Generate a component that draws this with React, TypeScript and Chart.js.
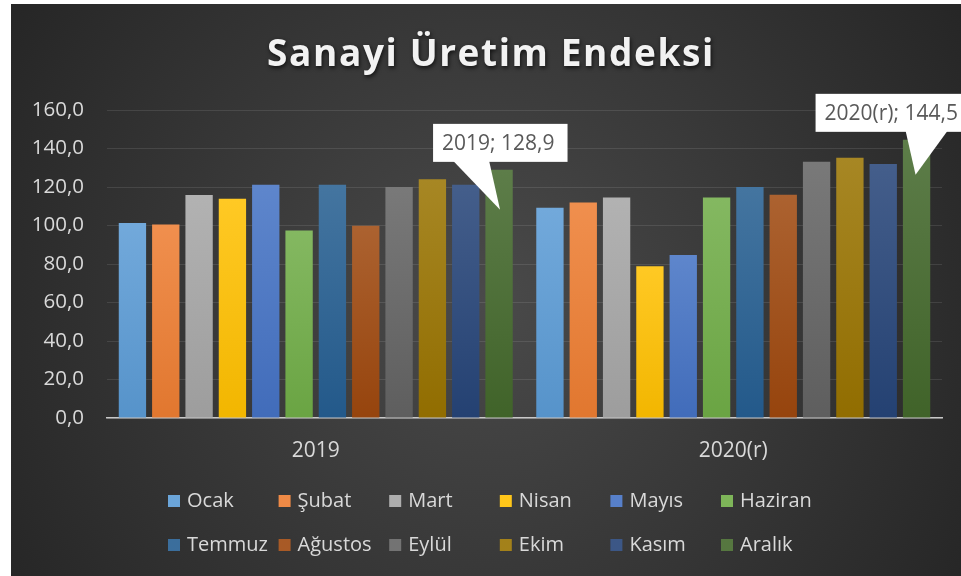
import React, { useEffect, useRef } from 'react';
import { Chart, registerables } from 'chart.js';

Chart.register(...registerables);

const title = 'Sanayi Üretim Endeksi';
const years = ['2019', '2020(r)'];
const months = ['Ocak', 'Şubat', 'Mart', 'Nisan', 'Mayıs', 'Haziran', 'Temmuz', 'Ağustos', 'Eylül', 'Ekim', 'Kasım', 'Aralık'];
const values2019 = [101.3, 100.5, 115.8, 113.9, 121.2, 97.4, 121.2, 99.9, 120.0, 124.0, 121.2, 128.9];
const values2020 = [109.2, 112.0, 114.5, 78.8, 84.7, 114.6, 120.0, 116.0, 133.1, 135.2, 131.9, 144.5];
const monthColors = ['#5b9bd5', '#ed7d31', '#a5a5a5', '#ffc000', '#4472c4', '#70ad47', '#255e91', '#9e480e', '#636363', '#997300', '#264478', '#43682b'];
const yMin = 0;
const yMax = 160;
const yStep = 20;

const FONT = '"Open Sans", "DejaVu Sans", sans-serif';
const fmt = (v: number) => v.toFixed(1).replace('.', ',');

function mix(hex: string, t: number) {
  const n = parseInt(hex.slice(1), 16);
  const r = (n >> 16) & 255, g = (n >> 8) & 255, b = n & 255;
  const f = (c: number) => Math.round(t >= 0 ? c + (255 - c) * t : c * (1 + t));
  return `rgb(${f(r)},${f(g)},${f(b)})`;
}

const bgPlugin = {
  id: 'bgPlugin',
  beforeDraw(chart: any) {
    const { ctx, width, height } = chart;
    ctx.save();
    const g = ctx.createRadialGradient(width * 0.5, height * 0.52, 0, width * 0.5, height * 0.52, width * 0.62);
    g.addColorStop(0, '#4a4a4a');
    g.addColorStop(1, '#242424');
    ctx.fillStyle = g;
    ctx.fillRect(0, 0, width, height);
    ctx.restore();
  },
  afterDraw(chart: any) {
    const { ctx } = chart;
    // title
    ctx.save();
    ctx.font = `bold 37px ${FONT}`;
    (ctx as any).letterSpacing = '1.6px';
    ctx.textAlign = 'center';
    ctx.textBaseline = 'alphabetic';
    ctx.shadowColor = 'rgba(0,0,0,0.7)';
    ctx.shadowBlur = 4;
    ctx.shadowOffsetX = 1;
    ctx.shadowOffsetY = 2;
    ctx.fillStyle = '#f2f2f2';
    ctx.fillText(title, 480, 62);
    ctx.restore();

    // legend (6 columns x 2 rows)
    ctx.save();
    ctx.font = `20px ${FONT}`;
    ctx.textBaseline = 'middle';
    ctx.textAlign = 'left';
    const left = 157, pitch = 110.6, rows = [497, 541];
    months.forEach((m, i) => {
      const col = i % 6, row = Math.floor(i / 6);
      const x = left + col * pitch, y = rows[row];
      ctx.fillStyle = mix(monthColors[i], 0.1);
      ctx.fillRect(x, y - 6, 12, 12);
      ctx.fillStyle = '#d9d9d9';
      ctx.fillText(m, x + 19, y);
    });
    ctx.restore();
  },
};

const calloutShift = [-66, -101];
const calloutPointer = [[-46, -10, 1, 40], [-11, 31, -1, 35]];

const calloutPlugin = {
  id: 'callout',
  afterDatasetsDraw(chart: any) {
    const { ctx } = chart;
    const meta = chart.getDatasetMeta(months.length - 1);
    ctx.save();
    ctx.font = `21px ${FONT}`;
    ctx.textBaseline = 'middle';
    ctx.textAlign = 'left';
    meta.data.forEach((el: any, i: number) => {
      const val = chart.data.datasets[months.length - 1].data[i];
      const text = `${years[i]}; ${fmt(val)}`;
      const tw = ctx.measureText(text).width;
      const bx = el.x + calloutShift[i];
      const bh = 38;
      const by = el.y - 8 - bh;
      const bw = tw + 22;
      const p = calloutPointer[i];
      ctx.fillStyle = '#ffffff';
      ctx.fillRect(bx, by, bw, bh);
      ctx.beginPath();
      ctx.moveTo(el.x + p[0], by + bh - 1);
      ctx.lineTo(el.x + p[1], by + bh - 1);
      ctx.lineTo(el.x + p[2], el.y + p[3]);
      ctx.closePath();
      ctx.fill();
      ctx.fillStyle = '#595959';
      ctx.fillText(text, bx + 9, by + bh / 2 + 1);
    });
    ctx.restore();
  },
};

export default function App() {
  const ref = useRef<HTMLCanvasElement>(null);
  useEffect(() => {
    document.body.style.margin = '0';
    const canvas = ref.current!;
    const datasets = months.map((m, i) => ({
      label: m,
      data: [values2019[i], values2020[i]],
      backgroundColor: (c: any) => {
        const chart = c.chart;
        const area = chart.chartArea;
        if (!area || c.raw == null) return monthColors[i];
        const yTop = chart.scales.y.getPixelForValue(c.raw);
        const g = chart.ctx.createLinearGradient(0, yTop, 0, area.bottom);
        g.addColorStop(0, mix(monthColors[i], 0.14));
        g.addColorStop(1, mix(monthColors[i], -0.05));
        return g;
      },
      borderWidth: 0,
      categoryPercentage: 0.958,
      barPercentage: 0.82,
    }));
    const chart = new Chart(canvas, {
      type: 'bar',
      data: { labels: years, datasets },
      plugins: [bgPlugin, calloutPlugin],
      options: {
        animation: false,
        responsive: true,
        maintainAspectRatio: false,
        layout: { padding: { top: 106, right: 19, left: 0, bottom: 0 } },
        plugins: { legend: { display: false }, title: { display: false }, tooltip: { enabled: false } },
        scales: {
          x: {
            grid: { display: false, drawTicks: false },
            border: { display: true, color: '#c8c8c8', width: 1.5 },
            ticks: { color: '#d9d9d9', font: { family: FONT, size: 21 }, padding: 20 },
            afterFit: (s: any) => { s.height = 158; },
          },
          y: {
            min: yMin,
            max: yMax,
            grid: { color: 'rgba(255,255,255,0.1)', drawTicks: false },
            border: { display: false },
            ticks: {
              stepSize: yStep,
              color: '#d9d9d9',
              font: { family: FONT, size: 20.5 },
              padding: 23,
              callback: (v: any) => fmt(Number(v)),
            },
            afterFit: (s: any) => { s.width = 96; },
          },
        },
      },
    });
    return () => chart.destroy();
  }, []);
  return (
    <div style={{ position: 'absolute', left: 11, top: 4, width: 950, height: 572 }}>
      <canvas ref={ref} />
    </div>
  );
}
